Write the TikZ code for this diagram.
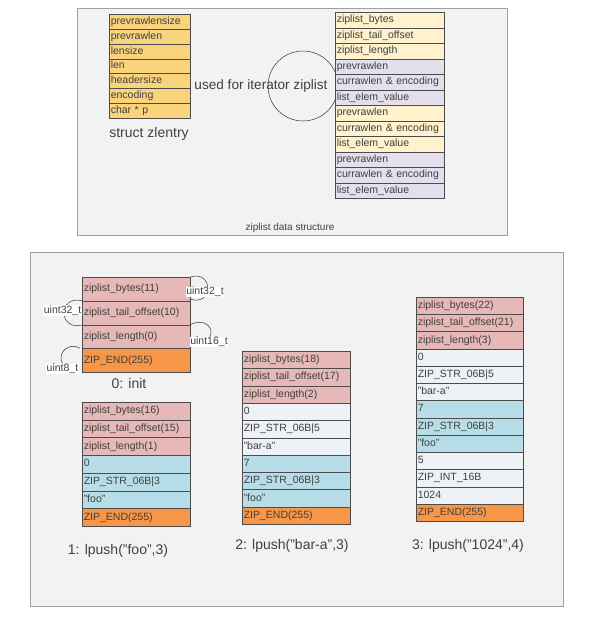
\documentclass[tikz,border=0pt]{standalone}
\usepackage{fontspec}
\setmainfont{Liberation Sans}
\definecolor{gd}{RGB}{250,212,125}
\definecolor{yl}{RGB}{255,242,204}
\definecolor{lv}{RGB}{228,223,236}
\definecolor{pk}{RGB}{230,184,183}
\definecolor{og}{RGB}{247,150,70}
\definecolor{bl}{RGB}{183,222,232}
\definecolor{gy}{RGB}{238,241,246}
\definecolor{panelbg}{RGB}{242,242,242}
\definecolor{panelbd}{RGB}{160,160,160}
\definecolor{txt}{RGB}{64,64,64}
\newcommand\zstack[6]{%
  \pgfmathsetmacro\zsw{#4-3}%
  \foreach \t/\c [count=\i from 0] in {#6} {%
    \node[cellbox, fill=\c, minimum width=#4pt, text width=\zsw pt, minimum height=#5pt] (#1\i) at (#2,{#3+\i*#5}) {\t};
  }}
\begin{document}
\begin{tikzpicture}[x=1pt,y=-1pt,
  every node/.style={text=txt, font=\fontsize{10.5}{12}\selectfont},
  cellbox/.style={draw=black!70, line width=0.5pt, anchor=north west, inner xsep=1.5pt, inner ysep=0pt, align=left, text height=7.6pt, text depth=2.2pt},
  panel/.style={fill=panelbg, draw=panelbd, line width=1.2pt, anchor=north west, inner sep=0pt},
  caption/.style={font=\fontsize{14}{16}\selectfont},
  tlabel/.style={fill=white, inner sep=0.6pt, font=\fontsize{10.5}{12}\selectfont},
  brace/.style={draw=black!80, line width=0.5pt}]

\useasboundingbox (0,0) rectangle (594,624);
\fill[white] (0,0) rectangle (594,624);

% panels
\node[panel, minimum width=430pt, minimum height=227pt] (top) at (77,8) {};
\node[panel, minimum width=533pt, minimum height=354pt] (bot) at (30,252) {};

% circle
\node[circle, draw=black!80, line width=0.5pt, minimum size=70pt, inner sep=0pt] (circ) at (303,86) {};

% struct zlentry
\zstack{z}{109}{14}{81}{14.86}{prevrawlensize/gd, prevrawlen/gd, lensize/gd, len/gd, headersize/gd, encoding/gd, char * p/gd}

% ziplist layout
\zstack{zl}{335}{12}{109}{15.5}{ziplist\_bytes/yl, ziplist\_tail\_offset/yl, ziplist\_length/yl, prevrawlen/lv, currawlen \& encoding/lv, list\_elem\_value/lv, prevrawlen/yl, currawlen \& encoding/yl, list\_elem\_value/yl, prevrawlen/lv, currawlen \& encoding/lv, list\_elem\_value/lv}

\node[caption] (zcap) at (149,134) {struct zlentry};
\node[font=\fontsize{13.6}{16}\selectfont] (iter) at (261,86) {used for iterator ziplist};
\node[font=\fontsize{10}{12}\selectfont] (title) at (290,228) {ziplist data structure};

% init
\zstack{i}{82}{277}{108}{23.75}{ziplist\_bytes(11)/pk, ziplist\_tail\_offset(10)/pk, ziplist\_length(0)/pk, ZIP\_END(255)/og}

% step 1
\zstack{a}{82}{402}{108}{17.7}{ziplist\_bytes(16)/pk, ziplist\_tail\_offset(15)/pk, ziplist\_length(1)/pk, 0/bl, ZIP\_STR\_06B|3/bl, "foo"/bl, ZIP\_END(255)/og}

% step 2
\zstack{b}{242}{351}{108}{17.3}{ziplist\_bytes(18)/pk, ziplist\_tail\_offset(17)/pk, ziplist\_length(2)/pk, 0/gy, ZIP\_STR\_06B|5/gy, "bar-a"/gy, 7/bl, ZIP\_STR\_06B|3/bl, "foo"/bl, ZIP\_END(255)/og}

% step 3
\zstack{c}{416}{297}{107}{17.23}{ziplist\_bytes(22)/pk, ziplist\_tail\_offset(21)/pk, ziplist\_length(3)/pk, 0/gy, ZIP\_STR\_06B|5/gy, "bar-a"/gy, 7/bl, ZIP\_STR\_06B|3/bl, "foo"/bl, 5/gy, ZIP\_INT\_16B/gy, 1024/gy, ZIP\_END(255)/og}

% captions
\node[caption] (cap0) at (129,383) {0: init};
\node[caption] (cap1) at (118,551) {1: lpush("foo",3)};
\node[caption] (cap2) at (292,546) {2: lpush("bar-a",3)};
\node[caption] (cap3) at (468,546) {3: lpush("1024",4)};

% type annotations
\coordinate (u1end) at ([yshift=2pt]i0.south east);
\draw[brace] (i0.north east) .. controls +(23,-7) and +(23,7) .. (u1end);
\node[tlabel] (u1) at (205,292) {uint32\_t};

\draw[brace] (i1.north west) .. controls +(-24,-6) and +(-24,6) .. (i1.south west);
\node[tlabel, anchor=east] (u2) at ([yshift=2pt]i1.west) {uint32\_t};

\node[tlabel] (u3) at (209,342) {uint16\_t};
\coordinate (u3end) at ([xshift=1pt]u3.north);
\draw[brace] (i2.north east) .. controls +(15,-7) and +(4,-8) .. (u3end);
\node[tlabel] at (u3) {uint16\_t};

\node[tlabel] (u4) at (62.5,369) {uint8\_t};
\coordinate (u4start) at ([xshift=-2pt]i3.north west);
\coordinate (u4end) at ([xshift=0pt]u4.north);
\draw[brace] (u4start) .. controls +(-12,-7) and +(-6,-9) .. (u4end);
\node[tlabel] at (u4) {uint8\_t};
\end{tikzpicture}
\end{document}
